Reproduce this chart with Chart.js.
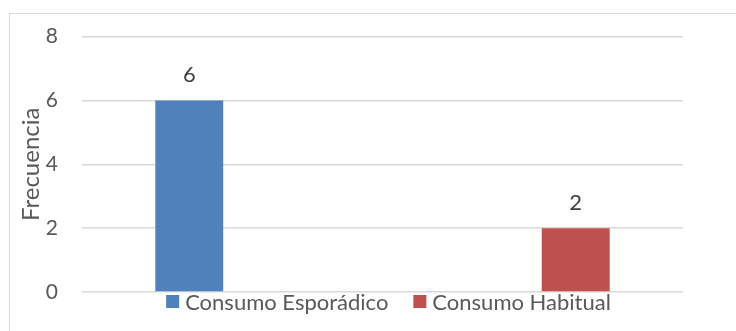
<!DOCTYPE html>
<html>
<head>
<meta charset="utf-8">
<script src="https://cdn.jsdelivr.net/npm/chart.js@4/dist/chart.umd.min.js"></script>
<style>
  html, body { margin: 0; padding: 0; background: #fff; overflow: hidden; }
  #marco {
    position: absolute; left: 9px; top: 13px;
    width: 760px; height: 340px;
    border: 1px solid #d9d9d9; box-sizing: border-box;
  }
  #wrap { position: absolute; left: 0; top: 0; width: 736px; height: 331px; }
</style>
</head>
<body>
<div id="marco"></div>
<div id="wrap"><canvas id="grafico"></canvas></div>
<script>
// Frecuencia de consumo
const categorias = ["", ""];
const series = ["Consumo Esporádico", "Consumo Habitual"];
const esporadico = [6, null];
const habitual = [null, 2];
const colores = ["#4F81BD", "#C0504D"];
const ticksY = [0, 2, 4, 6, 8];

const FUENTE = "Lato, 'Open Sans', sans-serif";

// etiquetas de valor encima de cada barra
const etiquetasValor = {
  id: "etiquetasValor",
  afterDatasetsDraw(chart) {
    const ctx = chart.ctx;
    ctx.save();
    ctx.font = "22px " + FUENTE;
    ctx.fillStyle = "#404040";
    ctx.textAlign = "center";
    ctx.textBaseline = "alphabetic";
    chart.data.datasets.forEach((ds, i) => {
      chart.getDatasetMeta(i).data.forEach((bar, j) => {
        const v = ds.data[j];
        if (v === null || v === undefined) return;
        ctx.fillText(String(v), bar.x, bar.y - 18);
      });
    });
    ctx.restore();
  }
};

// leyenda dibujada debajo del eje, casi pegada a la línea del 0
const leyendaAbajo = {
  id: "leyendaAbajo",
  afterDraw(chart) {
    const ctx = chart.ctx;
    const caja = 13, sep = 6, entre = 25;
    ctx.save();
    ctx.font = "22px " + FUENTE;
    const anchos = chart.data.datasets.map(ds => ctx.measureText(ds.label).width);
    const total = anchos.reduce((a, w) => a + caja + sep + w, 0) + entre * (anchos.length - 1);
    let x = 388.5 - total / 2;
    const yCaja = 295;
    chart.data.datasets.forEach((ds, i) => {
      ctx.fillStyle = ds.backgroundColor;
      ctx.fillRect(x, yCaja, caja, caja);
      x += caja + sep;
      ctx.fillStyle = "#595959";
      ctx.textAlign = "left";
      ctx.textBaseline = "middle";
      ctx.fillText(ds.label, x, yCaja + caja / 2 + 1);
      x += anchos[i] + entre;
    });
    ctx.restore();
  }
};

new Chart(document.getElementById("grafico").getContext("2d"), {
  type: "bar",
  data: {
    labels: categorias,
    datasets: [
      { label: series[0], data: esporadico, backgroundColor: colores[0] },
      { label: series[1], data: habitual, backgroundColor: colores[1] },
    ],
  },
  options: {
    responsive: true,
    maintainAspectRatio: false,
    animation: false,
    categoryPercentage: 0.572,
    barPercentage: 0.79,
    layout: { padding: { left: 0, top: 36, right: 53, bottom: 39 } },
    scales: {
      x: { display: false },
      y: {
        min: 0,
        max: 8,
        afterBuildTicks: scale => { scale.ticks = ticksY.map(v => ({ value: v })); },
        afterFit: scale => { scale.width = 82; },
        grid: { color: "#d9d9d9", lineWidth: 1.5, drawTicks: false },
        border: { display: false },
        ticks: { color: "#595959", font: { family: FUENTE, size: 21 }, padding: 24 },
        title: {
          display: true,
          text: "Frecuencia",
          color: "#595959",
          font: { family: FUENTE, size: 24 },
          padding: { top: 17, bottom: 0 },
        },
      },
    },
    plugins: {
      legend: { display: false },
      tooltip: { enabled: false },
    },
  },
  plugins: [etiquetasValor, leyendaAbajo],
});
</script>
</body>
</html>
